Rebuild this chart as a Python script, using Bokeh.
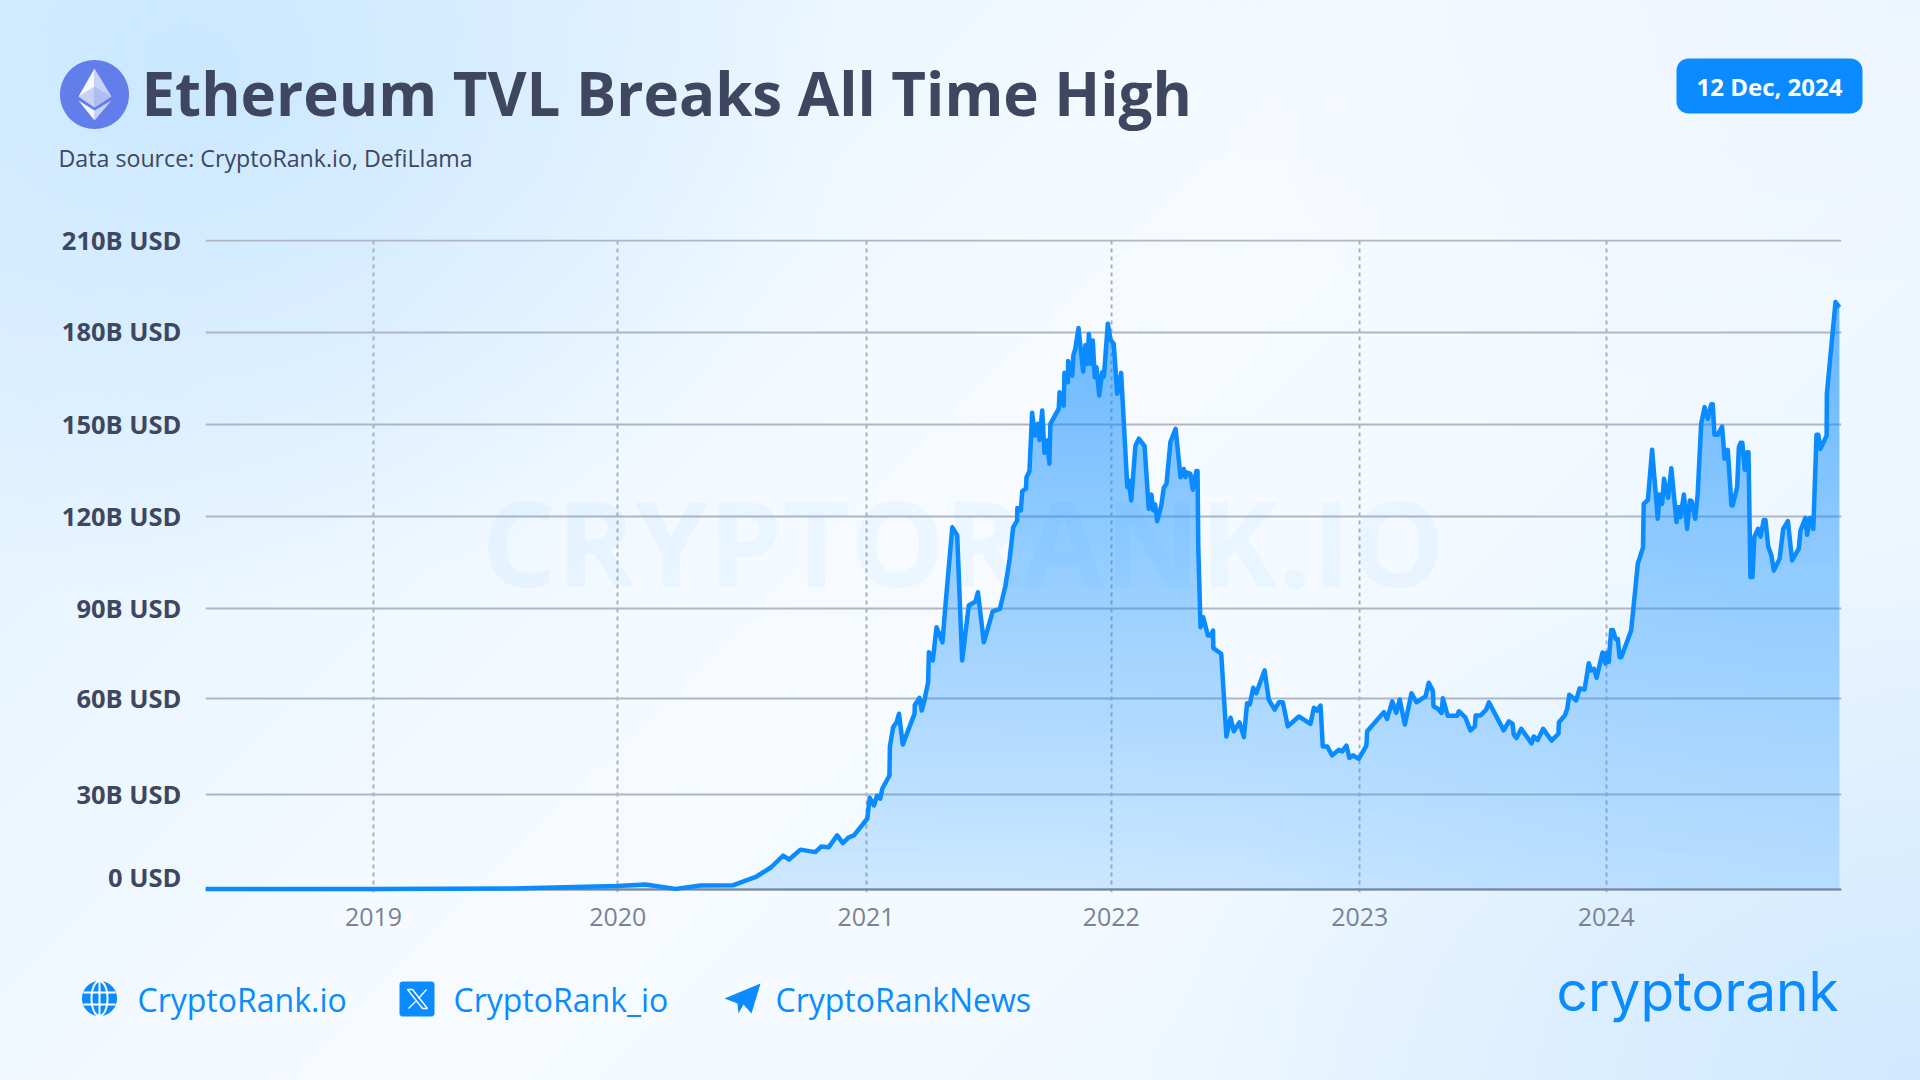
import numpy as np
from bokeh.core.properties import value
from bokeh.plotting import figure
from bokeh.models import FixedTicker, Span
from bokeh.embed import file_html
from bokeh.resources import INLINE

TITLE = "Ethereum TVL Breaks All Time High"
SOURCE = "Data source: CryptoRank.io, DefiLlama"
DATE = "12 Dec, 2024"
LINKS = ["CryptoRank.io", "CryptoRank_io", "CryptoRankNews"]
BRAND = "cryptorank"
WATERMARK = "CRYPTORANK.IO"

years = [2018.318,2019.0,2019.564,2019.990,2020.103,2020.225,2020.327,2020.460,2020.554,2020.613,2020.662,2020.686,2020.732,2020.792,2020.816,2020.847,2020.881,2020.904,2020.928,2020.949,
2021.003,2021.013,2021.030,2021.043,2021.056,2021.064,2021.093,2021.095,2021.108,2021.122,2021.132,2021.147,2021.195,2021.196,2021.215,2021.224,2021.235,2021.250,2021.253,2021.269,
2021.284,2021.308,2021.321,2021.348,2021.368,2021.388,2021.415,2021.442,2021.452,2021.476,2021.512,2021.541,2021.564,2021.580,2021.595,2021.611,2021.612,2021.626,2021.632,2021.647,
2021.649,2021.661,2021.672,2021.683,2021.695,2021.702,2021.713,2021.722,2021.733,2021.742,2021.746,2021.780,2021.783,2021.800,2021.803,2021.817,2021.818,2021.835,2021.839,2021.847,
2021.860,2021.879,2021.888,2021.897,2021.902,2021.913,2021.918,2021.926,2021.933,2021.944,2021.956,2021.963,2021.979,2021.990,2022.003,2022.017,2022.033,2022.058,2022.064,2022.074,
2022.091,2022.105,2022.128,2022.145,2022.156,2022.163,2022.171,2022.179,2022.196,2022.206,2022.217,2022.233,2022.254,2022.274,2022.287,2022.294,2022.301,2022.314,2022.324,2022.338,
2022.343,2022.346,2022.355,2022.366,2022.385,2022.396,2022.406,2022.407,2022.439,2022.460,2022.477,2022.490,2022.513,2022.531,2022.544,2022.555,2022.569,2022.581,2022.615,2022.632,
2022.656,2022.673,2022.689,2022.709,2022.754,2022.801,2022.815,2022.828,2022.842,2022.851,2022.869,2022.889,2022.916,2022.930,2022.947,2022.959,2022.974,2022.997,2023.028,2023.031,
2023.099,2023.112,2023.133,2023.149,2023.163,2023.184,2023.211,2023.231,2023.268,2023.281,2023.298,2023.300,2023.318,2023.333,2023.338,2023.358,2023.396,2023.403,2023.430,2023.450,
2023.468,2023.471,2023.491,2023.514,2023.525,2023.585,2023.606,2023.621,2023.626,2023.637,2023.656,2023.698,2023.707,2023.723,2023.745,2023.779,2023.807,2023.809,2023.833,2023.843,
2023.851,2023.879,2023.893,2023.913,2023.930,2023.940,2023.951,2023.962,2023.986,2023.998,2024.002,2024.011,2024.021,2024.028,2024.039,2024.048,2024.055,2024.062,2024.102,2024.113,
2024.129,2024.150,2024.153,2024.170,2024.187,2024.210,2024.217,2024.228,2024.235,2024.252,2024.265,2024.286,2024.291,2024.299,2024.302,2024.316,2024.329,2024.340,2024.347,2024.362,
2024.372,2024.386,2024.400,2024.413,2024.427,2024.433,2024.440,2024.454,2024.471,2024.481,2024.494,2024.509,2024.514,2024.532,2024.539,2024.546,2024.553,2024.563,2024.573,2024.578,
2024.586,2024.594,2024.602,2024.617,2024.627,2024.640,2024.647,2024.658,2024.671,2024.681,2024.704,2024.719,2024.738,2024.755,2024.782,2024.789,2024.809,2024.816,2024.827,2024.834,
2024.841,2024.854,2024.861,2024.870,2024.895,2024.896,2024.931,2024.947]

tvl_busd = [0.2,0.2,0.3,1.1,1.6,0.2,1.3,1.4,4.2,7.2,11.0,9.7,12.9,12.1,13.9,13.7,17.5,15.0,16.9,17.5,
22.9,29.7,27.2,30.4,29.4,32.6,36.9,46.3,52.5,54.1,56.9,46.9,56.9,59.7,62.0,57.9,61.2,67.1,76.8,74.1,
84.9,80.0,92.6,117.2,114.6,74.1,91.9,93.2,96.2,80.0,90.0,90.8,98.4,106.5,117.2,119.4,123.5,122.7,128.9,129.7,
133.4,135.4,154.3,146.9,150.7,145.5,155.0,141.3,145.3,137.8,150.7,155.6,160.9,156.6,167.2,164.2,171.0,166.3,172.8,175.0,
181.7,167.6,176.1,170.1,179.8,170.1,177.7,165.8,169.0,159.9,167.4,166.0,183.1,177.9,176.6,160.4,167.2,130.2,132.4,125.9,
143.7,145.9,143.5,123.2,127.8,122.7,124.6,119.2,124.3,130.0,131.3,144.8,149.1,133.4,136.1,133.4,134.9,134.5,129.4,135.4,
135.4,110.8,84.9,88.1,82.2,82.2,83.8,78.1,76.3,49.5,55.6,51.2,54.1,49.3,60.3,59.9,65.3,63.5,70.9,61.4,
58.2,60.6,60.6,52.8,56.0,53.6,58.8,57.9,59.5,46.3,46.3,43.4,45.2,44.7,46.6,42.6,43.4,42.3,46.6,51.2,
57.4,55.2,60.9,57.2,61.5,53.4,63.5,60.6,62.5,66.9,64.2,59.3,58.5,57.1,61.9,56.2,56.2,57.7,55.6,51.5,
52.8,56.3,56.3,58.2,60.6,51.5,54.4,53.6,50.1,49.0,52.0,47.3,49.5,48.4,52.0,48.2,50.4,54.1,56.3,58.5,
63.0,61.2,65.1,64.7,73.2,70.9,71.4,68.5,76.7,73.1,76.5,73.6,84.0,84.0,81.1,81.1,75.2,75.2,83.8,92.5,
105.4,110.6,124.8,126.1,142.3,120.0,127.8,124.8,132.9,126.8,136.3,118.9,123.7,123.7,120.5,127.8,116.7,125.9,125.7,120.0,
128.1,150.7,156.1,152.3,157.0,157.0,147.2,147.2,149.8,139.4,142.3,124.3,124.3,130.2,143.1,144.6,144.6,135.8,141.5,141.5,
101.1,101.1,114.2,116.7,114.2,119.6,119.6,111.0,108.1,103.2,107.0,116.7,119.2,106.5,110.3,116.2,120.3,114.8,120.2,120.2,
116.7,147.2,147.2,142.6,146.9,160.4,190.1,188.4]

year_labels = ["2019", "2020", "2021", "2022", "2023", "2024"]
value_labels = ["0 USD", "30B USD", "60B USD", "90B USD", "120B USD", "150B USD", "180B USD", "210B USD"]
# The reference's gridlines are not evenly spaced; these are where they sit on its scale.
year_positions = [2019.0, 2019.991, 2020.998, 2021.993, 2023.001, 2024.001]
grid_positions = [0, 30.7, 61.8, 90.9, 120.7, 150.5, 180.3, 210]
label_positions = [3.9, 31.0, 62.1, 91.2, 121.0, 150.8, 180.6, 210.2]

BLUE = "#0a8bff"
INK = "#3f4760"

# reference-pixel geometry
HEAD_H, CHART_H, FOOT_H = 180, 770, 130
F_L, F_R, F_T, F_B = 205, 1841, 239, 892
PX_YEAR, PX_VALUE = 246.5, 3.09
ZERO_Y, Y2024_X = 889, 1605.5
BASELINE_SHIFT = 0.39  # the alphabetic baseline lands this many em too low in this renderer

BACKGROUND = ("radial-gradient(ellipse 34% 50% at 10% 6%, #cbe8ff 0%, rgba(203,232,255,0) 100%),"
              "radial-gradient(ellipse 40% 50% at 100% 100%, #d0e9ff 0%, rgba(208,233,255,0) 100%),"
              "radial-gradient(ellipse 40% 40% at 100% 0%, #edf5ff 0%, rgba(237,245,255,0) 100%),"
              "linear-gradient(135deg, #ddf0ff 0%, #f7fbff 48%, #f4faff 62%, #e6f3ff 100%)")

def placed(top):
    return {"position": "absolute", "left": "0px", "top": f"{top}px",
            "background": BACKGROUND, "background-attachment": "fixed"}

def year_at(X):
    return 2024 + (X - Y2024_X) / PX_YEAR

def value_at(Y):
    return (ZERO_Y - Y) / PX_VALUE

chart = figure(
    width=1920, height=CHART_H,
    x_range=(year_at(F_L), year_at(F_R)), y_range=(value_at(F_B), value_at(F_T)),
    output_backend="svg", toolbar_location=None,
    min_border_left=F_L, min_border_right=1920 - F_R,
    min_border_top=F_T - HEAD_H, min_border_bottom=HEAD_H + CHART_H - F_B,
    border_fill_alpha=0, background_fill_alpha=0, outline_line_color=None,
    styles=placed(HEAD_H),
)

# axes and grid
xa, ya = chart.xaxis[0], chart.yaxis[0]
xa.ticker = FixedTicker(ticks=year_positions)
xa.major_label_overrides = dict(zip(year_positions, year_labels))
ya.ticker = FixedTicker(ticks=label_positions)
ya.major_label_overrides = dict(zip(label_positions, value_labels))
for ax in (xa, ya):
    ax.axis_line_color = None
    ax.major_tick_line_color = None
    ax.minor_tick_line_color = None
    ax.major_label_text_font = "Open Sans"
xa.major_label_text_font_size = "25px"
xa.major_label_text_color = "#7b8292"
xa.major_label_standoff = 9
ya.major_label_text_font_size = "25.5px"
ya.major_label_text_font_style = "bold"
ya.major_label_text_color = INK
ya.major_label_standoff = 18

chart.ygrid.ticker = FixedTicker(ticks=grid_positions)
chart.ygrid.grid_line_color = "#aeb6c4"
chart.ygrid.grid_line_width = 2
chart.xgrid.ticker = FixedTicker(ticks=year_positions)
chart.xgrid.grid_line_color = "#a9b1bd"
chart.xgrid.grid_line_width = 2
chart.xgrid.grid_line_dash = "4 4"
chart.add_layout(Span(location=0, dimension="width", line_color="#7f8695", line_width=2, level="underlay"))

# watermark
chart.text(x=[year_at(481)], y=[value_at(587 - BASELINE_SHIFT * 118)], text=[WATERMARK], text_font=value("Open Sans"),
           text_font_style="bold", text_font_size="118px", text_baseline="alphabetic",
           text_color=BLUE, text_alpha=0.045)

# area with vertical gradient, one pixel-aligned band at a time
x_arr, y_arr = np.array(years), np.array(tvl_busd)

def crossings(level):
    d = y_arr - level
    i = np.where(d[:-1] * d[1:] < 0)[0]
    return x_arr[i] + (level - y_arr[i]) * (x_arr[i + 1] - x_arr[i]) / (y_arr[i + 1] - y_arr[i])

BAND_PX = 6
def edge(k):
    return 0.0 if k == 0 else (k * BAND_PX + 0.5) / PX_VALUE

for k in range(int(max(tvl_busd) * PX_VALUE / BAND_PX) + 1):
    lo, hi = edge(k), edge(k + 1)
    xs = np.unique(np.concatenate([x_arr, crossings(lo), crossings(hi)]))
    ys = np.interp(xs, x_arr, y_arr)
    alpha = 0.165 + 0.00075 * (k + 0.5) * BAND_PX
    chart.varea(x=xs, y1=np.minimum(ys, lo), y2=np.minimum(ys, hi), fill_color=BLUE, fill_alpha=alpha)

chart.line(years, tvl_busd, line_color=BLUE, line_width=4.5, line_join="round")

# header and footer panels: their data coordinates are page pixels
def panel(top, height):
    f = figure(width=1920, height=height, x_range=(0, 1920), y_range=(top + height, top),
               output_backend="svg", toolbar_location=None, min_border=0,
               border_fill_alpha=0, background_fill_alpha=0, outline_line_color=None,
               styles=placed(top))
    f.axis.visible = False
    f.grid.visible = False
    return f

head = panel(0, HEAD_H)
foot = panel(HEAD_H + CHART_H, FOOT_H)

def text(f, X, Y, s, size, color, bold=False, font="Open Sans"):
    f.text(x=[X], y=[Y - BASELINE_SHIFT * size], text=[s], text_font=value(font), text_font_size=f"{size}px",
           text_color=color, text_font_style="bold" if bold else "normal",
           text_baseline="alphabetic", text_align="left")

def poly(f, points, fill=None, alpha=1.0, line=None, width=1.0):
    xs_, ys_ = zip(*points)
    f.patch(list(xs_), list(ys_), fill_color=fill, fill_alpha=alpha if fill else 0,
            line_color=line, line_width=width)

def stroke(f, points, width, color="#ffffff"):
    xs_, ys_ = zip(*points)
    f.line(list(xs_), list(ys_), line_color=color, line_width=width)

def ellipse(cx, cy, rx, ry):
    t = np.linspace(0, 2 * np.pi, 73)[:-1]
    return list(zip(cx + rx * np.cos(t), cy + ry * np.sin(t)))

def rounded(l, r, t, b, rad):
    pts = []
    for cx, cy, a0 in ((r - rad, t + rad, -90), (r - rad, b - rad, 0), (l + rad, b - rad, 90), (l + rad, t + rad, 180)):
        for a in np.radians(np.linspace(a0, a0 + 90, 9)):
            pts.append((cx + rad * np.cos(a), cy + rad * np.sin(a)))
    return pts

# Ethereum logo
poly(head, ellipse(94, 94, 34.5, 34.5), fill="#627eea")
poly(head, [(94, 68), (78, 96), (94, 107)], fill="#ffffff", alpha=0.95)
poly(head, [(94, 68), (111, 96), (94, 107)], fill="#ffffff", alpha=0.65)
poly(head, [(94, 86), (78, 96), (94, 107), (111, 96)], fill="#8fa3ee", alpha=0.45)
poly(head, [(78, 100), (94, 110), (94, 120)], fill="#ffffff", alpha=0.95)
poly(head, [(111, 100), (94, 110), (94, 120)], fill="#ffffff", alpha=0.65)

text(head, 141, 116, TITLE, 60, INK, bold=True)
text(head, 58, 167, SOURCE, 23.2, INK)
poly(head, rounded(1676, 1862, 58, 113, 12), fill=BLUE)
text(head, 1696, 95, DATE, 24, "#ffffff", bold=True)

# footer icons
poly(foot, ellipse(99, 998, 17.5, 17.5), fill=BLUE)
poly(foot, ellipse(99, 998, 8, 17.5), line="#ffffff", width=2)
stroke(foot, [(99, 981), (99, 1015)], 2)
stroke(foot, [(83, 992), (115, 992)], 2)
stroke(foot, [(83, 1004), (115, 1004)], 2)

poly(foot, rounded(399, 434, 981, 1016, 3), fill=BLUE)
poly(foot, [(407, 989), (412, 989), (427, 1008), (422, 1008)], line="#ffffff", width=1.3)
stroke(foot, [(426, 989), (418, 998)], 1.3)
stroke(foot, [(415, 1001), (408, 1008)], 1.3)

poly(foot, [(760, 983), (751, 1013), (743, 1004), (738, 1013), (737, 1003), (724, 998)], fill=BLUE)

text(foot, 137, 1011, LINKS[0], 32, BLUE)
text(foot, 453, 1011, LINKS[1], 32, BLUE)
text(foot, 775, 1011, LINKS[2], 32, BLUE)
text(foot, 1556, 1012, BRAND, 55, BLUE, font="Inter")

open("out.html", "w").write(file_html([head, chart, foot], INLINE))
